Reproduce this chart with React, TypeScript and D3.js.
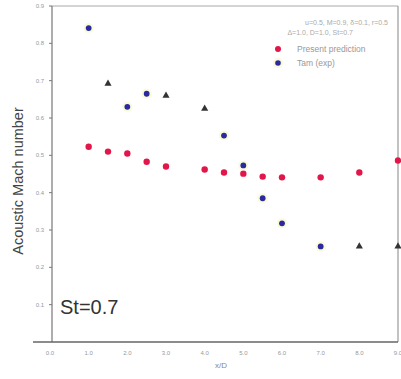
import React from "react";
import * as d3 from "d3";

const W = 401;
const H = 379;

const xTicks = [0, 1, 2, 3, 4, 5, 6, 7, 8, 9];
const yTicks = [0.1, 0.2, 0.3, 0.4, 0.5, 0.6, 0.7, 0.8, 0.9];

const predX = [1, 1.5, 2, 2.5, 3, 4, 4.5, 5, 5.5, 6, 7, 8, 9];
const predY = [0.523, 0.51, 0.505, 0.483, 0.47, 0.462, 0.454, 0.451, 0.443, 0.441, 0.441, 0.454, 0.486];

const expBlueX = [1, 2, 2.5, 4.5, 5, 5.5, 6, 7];
const expBlueY = [0.841, 0.63, 0.665, 0.553, 0.473, 0.385, 0.318, 0.256];

const expTriX = [1.5, 3, 4, 8, 9];
const expTriY = [0.692, 0.66, 0.625, 0.256, 0.256];

const legendLabels = ["Present prediction", "Tam (exp)"];
const noteLines = ["u=0.5, M=0.9, \u03b4=0.1, r=0.5", "\u0394=1.0, D=1.0, St=0.7"];

export default function App() {
  const m = { left: 52, right: 398, top: 6, bottom: 342 };
  const x = d3.scaleLinear().domain([0, 9]).range([m.left - 2, m.right]);
  const y = d3.scaleLinear().domain([0, 0.9]).range([m.bottom, m.top]);
  const tri = d3.symbol().type(d3.symbolTriangle).size(22)();

  return (
    <svg
      width={W}
      height={H}
      style={{ position: "absolute", left: 0, top: 0, background: "#fff" }}
      fontFamily="Liberation Sans, Arial, sans-serif"
    >
      <rect x={0} y={0} width={W} height={H} fill="#fff" />
      {/* frame */}
      <line x1={m.left} x2={m.right} y1={m.top} y2={m.top} stroke="#aaa" strokeWidth={1.2} />
      <line x1={m.right} x2={m.right} y1={m.top} y2={m.bottom} stroke="#999" strokeWidth={1.2} />
      <line x1={m.left} x2={m.left} y1={m.top} y2={m.bottom} stroke="#777" strokeWidth={1.2} />
      <line x1={33} x2={m.right} y1={m.bottom} y2={m.bottom} stroke="#666" strokeWidth={1.4} />
      {/* y ticks */}
      {yTicks.map((t) => (
        <g key={"y" + t}>
          <line x1={m.left - 3} x2={m.left} y1={y(t)} y2={y(t)} stroke="#777" />
          <text x={m.left - 8} y={y(t) + 2} fontSize={6} fill="#999" textAnchor="end">
            {d3.format(".1f")(t)}
          </text>
        </g>
      ))}
      {/* x ticks */}
      {xTicks.map((t) => (
        <text key={"x" + t} x={x(t)} y={355} fontSize={6} fill="#999" textAnchor="middle">
          {d3.format(".1f")(t)}
        </text>
      ))}
      <text x={221} y={368} fontSize={8} fill="#888" textAnchor="middle">
        x/D
      </text>
      <text
        transform={`translate(23,${181}) rotate(-90)`}
        fontSize={14.5}
        fill="#444"
        textAnchor="middle"
      >
        Acoustic Mach number
      </text>
      <text x={60} y={314} fontSize={20} fill="#333">
        St=0.7
      </text>
      {/* notes & legend */}
      {noteLines.map((s, i) => (
        <text key={s} x={i === 0 ? 388 : 353} y={25 + i * 10} fontSize={7} fill="#aaa" textAnchor="end">
          {s}
        </text>
      ))}
      <circle cx={278} cy={49} r={3} fill="#e3164a" />
      <circle cx={278} cy={63} r={5} fill="#f8f6b0" opacity={0.5} />
      <circle cx={278} cy={63} r={2.8} fill="#2a2aa0" />
      {legendLabels.map((s, i) => (
        <text key={s} x={297} y={52 + i * 14} fontSize={8.5} fill="#999">
          {s}
        </text>
      ))}
      {/* prediction */}
      {predX.map((v, i) => (
        <circle key={"p" + i} cx={x(v)} cy={y(predY[i])} r={3.2} fill="#e3164a" />
      ))}
      {/* experiment blue */}
      {expBlueX.map((v, i) => (
        <g key={"b" + i}>
          <circle cx={x(v)} cy={y(expBlueY[i])} r={5} fill="#f8f6b0" opacity={0.5} />
          <circle cx={x(v)} cy={y(expBlueY[i])} r={2.9} fill="#2a2aa0" />
        </g>
      ))}
      {/* experiment triangles */}
      {expTriX.map((v, i) => (
        <path
          key={"t" + i}
          d={tri || ""}
          transform={`translate(${x(v)},${y(expTriY[i])})`}
          fill="#333"
        />
      ))}
    </svg>
  );
}
